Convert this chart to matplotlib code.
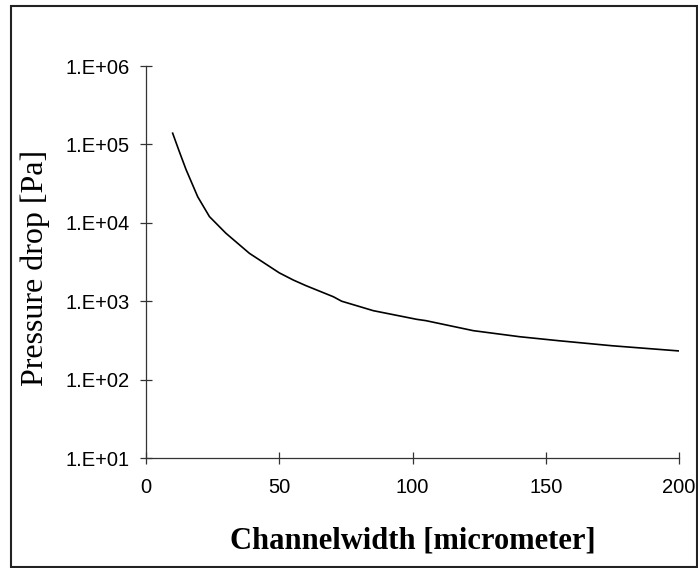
import numpy as np
import matplotlib.pyplot as plt
from matplotlib.patches import Rectangle
from matplotlib.ticker import FixedLocator, FuncFormatter

# channel width [micrometer] and pressure drop [Pa]
width = [10, 12.5, 15, 19.4, 23.8, 30, 38.8, 50, 55.3, 60, 70.3, 73.4, 85.3,
         101.6, 105, 122.8, 140.3, 155, 175, 200]
pressure = [1.39e5, 8.1e4, 4.8e4, 2.15e4, 1.2e4, 7.35e3, 4.08e3, 2.3e3, 1.86e3,
            1.58e3, 1.14e3, 1.0e3, 757, 587, 565, 421, 352, 313, 270, 232]

x_ticks = [0, 50, 100, 150, 200]
y_ticks = [1e1, 1e2, 1e3, 1e4, 1e5, 1e6]


def sci_label(v, pos):
    return "1.E+%02d" % int(round(np.log10(v)))


fig = plt.figure(figsize=(6.98, 5.68), dpi=100)
fig.patches.append(Rectangle((11 / 698, 0.002), 686 / 698, 1 - 6 / 568 - 0.002,
                             transform=fig.transFigure, fill=False,
                             edgecolor='#222222', linewidth=1.5))

ax = fig.add_axes([146 / 698, 1 - 458 / 568, 533 / 698, 392 / 568])
ax.plot(width, pressure, color='black', linewidth=1.2)

ax.set_yscale('log')
ax.set_xlim(0, 200)
ax.set_ylim(1e1, 1e6)
ax.xaxis.set_major_locator(FixedLocator(x_ticks))
ax.yaxis.set_major_locator(FixedLocator(y_ticks))
ax.yaxis.set_minor_locator(FixedLocator([]))
ax.yaxis.set_major_formatter(FuncFormatter(sci_label))

for side in ['top', 'right']:
    ax.spines[side].set_visible(False)
for side in ['left', 'bottom']:
    ax.spines[side].set_linewidth(0.9)
    ax.spines[side].set_color('#333333')

ax.tick_params(direction='inout', length=9, width=0.9, color='#333333',
               labelsize=14.5, labelfontfamily='Liberation Sans')
ax.tick_params(axis='x', pad=10)
ax.tick_params(axis='y', pad=7)

ax.set_xlabel('Channelwidth [micrometer]', fontfamily='Liberation Serif',
              fontweight='bold', fontsize=22)
ax.set_ylabel('Pressure drop [Pa]', fontfamily='Liberation Serif',
              fontsize=23)
ax.xaxis.set_label_coords(0.501, -0.176)
ax.yaxis.set_label_coords(-0.180, 0.486)

fig.savefig('out.png', dpi=100)
